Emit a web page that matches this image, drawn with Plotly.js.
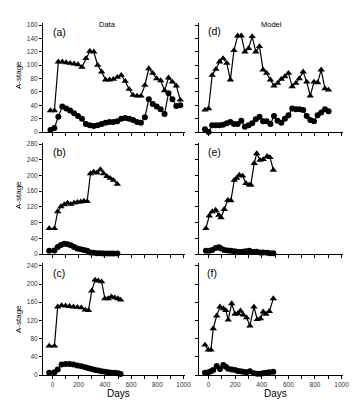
<!DOCTYPE html>
<html>
<head>
<meta charset="utf-8">
<script src="https://cdn.plot.ly/plotly-3.0.1.min.js"></script>
<style>html,body{margin:0;padding:0;background:#fff;}#chart{width:360px;height:400px;}</style>
</head>
<body>
<div id="chart"></div>
<script>
// ---- Data ----
const daysA = [-15, 15, 45, 75, 105, 135, 165, 195, 225, 255, 285, 315, 345, 375, 405, 435, 465, 495, 525, 555, 585, 615, 645, 675, 705, 735, 765, 795, 825, 855, 885, 915, 945, 975];
const triA  = [32, 32, 105, 105, 104, 103, 102, 101, 97, 110, 121, 120, 100, 90, 78, 78, 79, 82, 85, 76, 64, 55, 54, 54, 70, 95, 88, 80, 77, 62, 81, 75, 69, 48];
const circA = [3, 6, 23, 38, 35, 32, 28, 24, 20, 12, 10, 9, 10, 12, 14, 15, 15, 16, 20, 21, 20, 18, 15, 14, 22, 49, 42, 38, 34, 27, 58, 49, 39, 40];

const daysB = [-25, 15, 40, 65, 90, 115, 140, 165, 190, 215, 240, 265, 290, 315, 340, 365, 390, 415, 440, 465, 495];
const triB  = [65, 65, 108, 121, 126, 130, 127, 130, 132, 133, 135, 134, 205, 209, 207, 215, 205, 198, 193, 188, 178];
const circB = [8, 9, 18, 23, 26, 25, 22, 18, 14, 12, 10, 8, 4, 3, 2, 2, 1, 1, 1, 1, 1];

const daysC = [-25, 15, 40, 70, 100, 130, 160, 190, 220, 250, 275, 300, 325, 350, 375, 400, 425, 450, 475, 500, 520];
const triC  = [64, 64, 150, 153, 152, 151, 150, 149, 148, 143, 142, 185, 209, 207, 205, 168, 168, 172, 170, 168, 165];
const circC = [5, 6, 12, 23, 24, 24, 23, 21, 19, 17, 15, 13, 11, 10, 8, 7, 6, 5, 5, 4, 2];

const daysD = [-27, 0, 27, 55, 82, 109, 137, 164, 191, 219, 246, 273, 301, 328, 355, 383, 410, 437, 465, 492, 519, 547, 574, 601, 629, 656, 683, 711, 738, 765, 793, 820, 847, 875, 902];
const triD  = [33, 35, 85, 94, 105, 110, 103, 78, 122, 144, 144, 120, 125, 143, 120, 128, 93, 88, 78, 69, 73, 79, 83, 88, 68, 73, 80, 90, 75, 54, 75, 74, 93, 65, 63];
const circD = [4, 0, 10, 10, 10, 11, 13, 15, 12, 12, 17, 8, 10, 13, 19, 23, 16, 16, 12, 24, 17, 14, 20, 25, 35, 34, 34, 33, 24, 18, 16, 25, 29, 34, 31];

const daysE = [-20, 5, 28, 53, 78, 93, 118, 144, 168, 193, 211, 231, 256, 281, 306, 318, 343, 362, 387, 411, 441, 462, 487];
const triE  = [65, 97, 108, 112, 99, 93, 114, 137, 136, 188, 193, 201, 199, 180, 176, 176, 231, 256, 239, 241, 249, 246, 214];
const circE = [8, 8, 10, 15, 17, 14, 10, 9, 8, 7, 6, 5, 6, 7, 8, 6, 5, 6, 4, 4, 3, 2, 2];

const daysF = [-27, -2, 18, 35, 61, 86, 111, 130, 148, 174, 199, 220, 240, 261, 286, 311, 341, 366, 390, 411, 431, 457, 487];
const triF  = [66, 55, 55, 102, 130, 150, 146, 142, 121, 157, 134, 135, 141, 132, 126, 108, 150, 122, 124, 139, 134, 140, 168];
const circF = [5, 6, 8, 11, 20, 13, 22, 18, 14, 12, 11, 9, 8, 7, 6, 8, 4, 3, 3, 4, 5, 6, 7];

const xTickVals = [0, 100, 200, 300, 400, 500, 600, 700, 800, 900, 1000];
const xTickText = ['0', '', '200', '', '400', '', '600', '', '800', '', '1000'];
const panelLabels = ['(a)', '(b)', '(c)', '(d)', '(e)', '(f)'];

// ---- Build traces ----
const panels = [
  {d: daysA, t: triA, c: circA, ax: ''},
  {d: daysB, t: triB, c: circB, ax: '2'},
  {d: daysC, t: triC, c: circC, ax: '3'},
  {d: daysD, t: triD, c: circD, ax: '4'},
  {d: daysE, t: triE, c: circE, ax: '5'},
  {d: daysF, t: triF, c: circF, ax: '6'}
];
const traces = [];
panels.forEach(p => {
  traces.push({x: p.d, y: p.t, xaxis: 'x' + p.ax, yaxis: 'y' + p.ax, type: 'scatter', mode: 'lines+markers',
    line: {color: '#000', width: 1.2}, marker: {symbol: 'triangle-up', size: 6.5, color: '#000'}, cliponaxis: false, showlegend: false, hoverinfo: 'none'});
  traces.push({x: p.d, y: p.c, xaxis: 'x' + p.ax, yaxis: 'y' + p.ax, type: 'scatter', mode: 'lines+markers',
    line: {color: '#000', width: 1.2}, marker: {symbol: 'circle', size: 6, color: '#000'}, cliponaxis: false, showlegend: false, hoverinfo: 'none'});
});

// ---- Layout ----
const tickFont = {family: 'Liberation Sans, Arial, sans-serif', size: 6.5, color: '#333'};
const xRange = [-72, 1011];
const leftDom = [43 / 360, 185 / 360];
const rightDom = [199 / 360, 343 / 360];
const yDoms = [[0.67, 0.943], [0.365, 0.643], [0.0625, 0.343]];
const yRanges = [[0, 163.4], [0, 283.3], [0, 246.6]];
const yDticks = [20, 40, 40];

function xAxis(dom, anchor, labels) {
  return {domain: dom, range: xRange, anchor: anchor, showline: true, linecolor: '#000', linewidth: 1,
    ticks: 'outside', ticklen: 3, tickwidth: 1, tickcolor: '#000', tickmode: 'array',
    tickvals: xTickVals, ticktext: xTickText, showticklabels: labels, showgrid: false, zeroline: false,
    tickfont: tickFont, fixedrange: true};
}
function yAxis(row, anchor, labels) {
  return {domain: yDoms[row], range: yRanges[row], anchor: anchor, showline: true, linecolor: '#000', linewidth: 1,
    ticks: 'outside', ticklen: 3, tickwidth: 1, tickcolor: '#000', tick0: 0, dtick: yDticks[row],
    showticklabels: labels, showgrid: false, zeroline: false, tickfont: tickFont, fixedrange: true};
}

const layout = {
  width: 360, height: 400, margin: {l: 0, r: 0, t: 0, b: 0},
  paper_bgcolor: '#fff', plot_bgcolor: '#fff',
  font: {family: 'Liberation Sans, Arial, sans-serif', color: '#000'},
  xaxis: xAxis(leftDom, 'y', false), yaxis: yAxis(0, 'x', true),
  xaxis2: xAxis(leftDom, 'y2', false), yaxis2: yAxis(1, 'x2', true),
  xaxis3: xAxis(leftDom, 'y3', true), yaxis3: yAxis(2, 'x3', true),
  xaxis4: xAxis(rightDom, 'y4', false), yaxis4: yAxis(0, 'x4', false),
  xaxis5: xAxis(rightDom, 'y5', false), yaxis5: yAxis(1, 'x5', false),
  xaxis6: xAxis(rightDom, 'y6', true), yaxis6: yAxis(2, 'x6', false),
  annotations: []
};

const ann = layout.annotations;
const px = v => v / 360, py = v => (400 - v) / 400;
// column titles
ann.push({text: 'Data', x: px(107.5), y: py(24), xref: 'paper', yref: 'paper', showarrow: false, font: {size: 7.5}, xanchor: 'center', yanchor: 'middle'});
ann.push({text: 'Model', x: px(271), y: py(24), xref: 'paper', yref: 'paper', showarrow: false, font: {size: 7.5}, xanchor: 'center', yanchor: 'middle'});
// panel labels
const labelPos = [[59, 32], [59, 152], [59, 273], [214, 31], [214, 152], [212, 273]];
panelLabels.forEach((t, i) => {
  ann.push({text: t, x: px(labelPos[i][0]), y: py(labelPos[i][1]), xref: 'paper', yref: 'paper', showarrow: false, font: {size: 10.5}, xanchor: 'center', yanchor: 'middle'});
});
// y titles
[[75], [195], [319]].forEach(v => {
  ann.push({text: 'A-stage', x: px(18), y: py(v[0]), xref: 'paper', yref: 'paper', showarrow: false, textangle: -90, font: {size: 8}, xanchor: 'center', yanchor: 'middle'});
});
// x titles
[118.5, 275].forEach(x => {
  ann.push({text: 'Days', x: px(x), y: py(393), xref: 'paper', yref: 'paper', showarrow: false, font: {size: 10}, xanchor: 'center', yanchor: 'middle'});
});

Plotly.newPlot('chart', traces, layout, {staticPlot: true, displayModeBar: false});
</script>
</body>
</html>
